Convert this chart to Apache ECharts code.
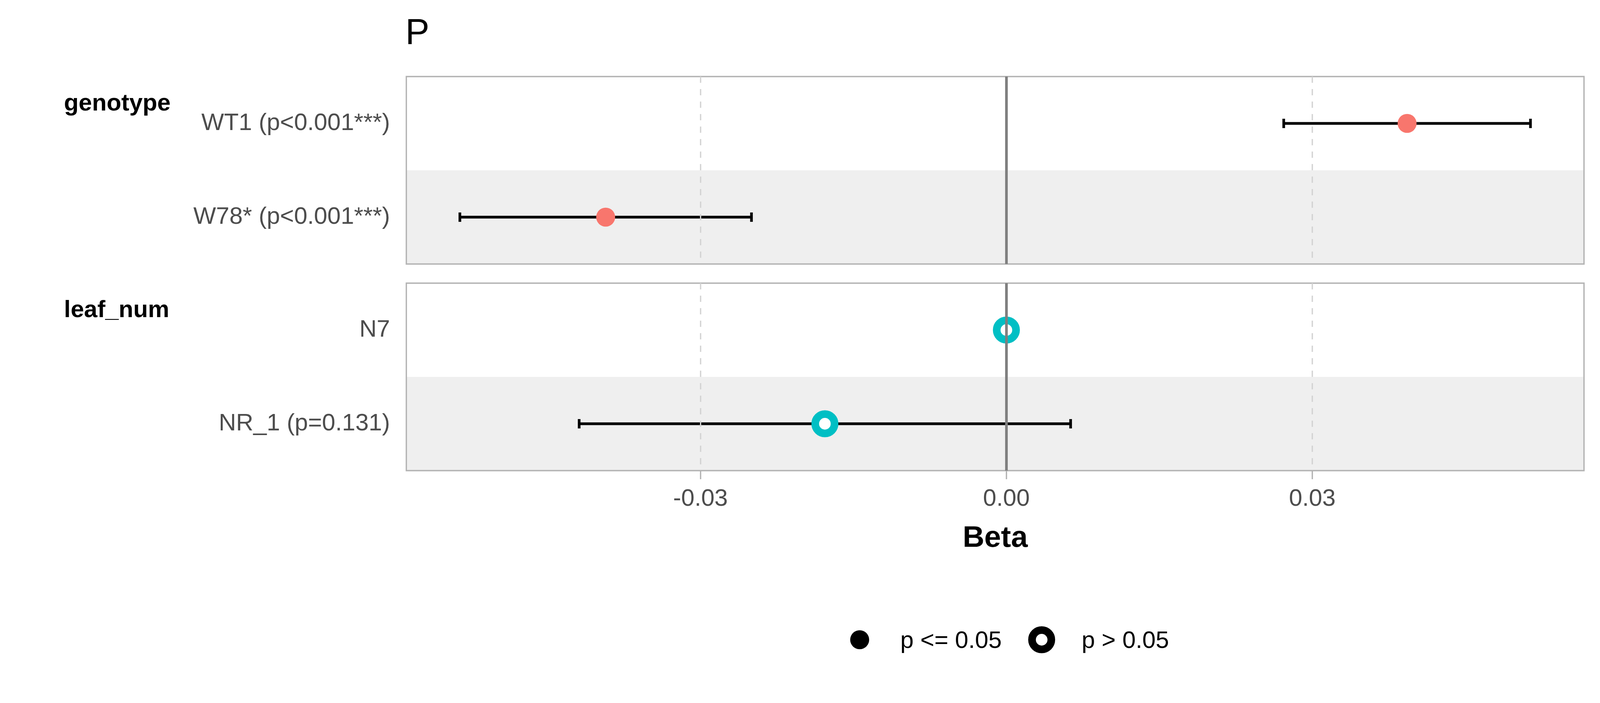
<!DOCTYPE html>
<html>
<head>
<meta charset="utf-8">
<script src="https://cdn.jsdelivr.net/npm/echarts@6/dist/echarts.min.js"></script>
<style>html,body{margin:0;padding:0;background:#fff;overflow:hidden;}#c{width:100vw;height:100vh;}</style>
</head>
<body>
<div id="c"></div>
<script>
// ---- data ----
const genotypeLabels = ['WT1 (p<0.001***)', 'W78* (p<0.001***)'];
const genotypeBeta = [0.0393, -0.0393];
const genotypeLow = [0.0272, -0.0536];
const genotypeHigh = [0.0514, -0.0250];
const genotypeSig = [true, true];

const leafLabels = ['N7', 'NR_1 (p=0.131)'];
const leafBeta = [0, -0.0178];
const leafLow = [null, -0.0419];
const leafHigh = [null, 0.0063];
const leafSig = [false, false];

const stripTitles = ['genotype', 'leaf_num'];
const xTicks = [-0.03, 0, 0.03];
const legendLabels = ['p <= 0.05', 'p > 0.05'];

// ---- layout (designed for 4800 x 1800, scaled to the actual viewport) ----
const el = document.getElementById('c');
const W = el.clientWidth || 4800, H = el.clientHeight || 1800;
const sx = W / 4800, sy = H / 1800;
const X = v => v * sx, Y = v => v * sy;
const F = v => Math.round(v * Math.min(sx, sy) * 10) / 10;

const FONT = '"Liberation Sans", Arial, Helvetica, sans-serif';
const allLow = genotypeLow.concat(leafLow).filter(v => v !== null);
const allHigh = genotypeHigh.concat(leafHigh).filter(v => v !== null);
const dMin = Math.min(...allLow), dMax = Math.max(...allHigh);
const pad = (dMax - dMin) * 0.05;
const xMin = dMin - pad, xMax = dMax + pad;

const colorSig = '#F8766D', colorNS = '#00BFC4';

function errData(low, high) {
  const out = [];
  low.forEach((v, i) => { if (v !== null && high[i] !== null) out.push([v, high[i], i]); });
  return out;
}
function ptData(beta, sig, want) {
  const out = [];
  beta.forEach((v, i) => { if (sig[i] === want) out.push([v, i]); });
  return out;
}
function renderErr(params, api) {
  const lo = api.coord([api.value(0), api.value(2)]);
  const hi = api.coord([api.value(1), api.value(2)]);
  const h = Y(12);
  const st = { stroke: '#000', lineWidth: F(8) };
  return {
    type: 'group',
    children: [
      { type: 'line', shape: { x1: lo[0], y1: lo[1], x2: hi[0], y2: hi[1] }, style: st },
      { type: 'line', shape: { x1: lo[0], y1: lo[1] - h, x2: lo[0], y2: lo[1] + h }, style: st },
      { type: 'line', shape: { x1: hi[0], y1: hi[1] - h, x2: hi[0], y2: hi[1] + h }, style: st }
    ]
  };
}

const gridLeft = X(1219), gridRight = X(48), gridH = Y(480);
const gridTops = [Y(196), Y(725)];

function yAxis(idx, labels) {
  return {
    type: 'category', gridIndex: idx, data: labels, inverse: true,
    axisLine: { show: false }, axisTick: { show: false },
    axisLabel: { color: '#4d4d4d', fontSize: F(72), fontFamily: FONT, margin: X(49) },
    splitLine: { show: false },
    splitArea: { show: true, areaStyle: { color: ['#ffffff', '#efefef'] } }
  };
}
function xAxis(idx, showLabels) {
  return {
    type: 'value', gridIndex: idx, min: xMin, max: xMax,
    axisLine: { show: false },
    splitLine: { show: false },
    axisTick: { show: showLabels, customValues: xTicks, length: Y(22), lineStyle: { color: '#b3b3b3', width: F(4) } },
    axisLabel: { show: showLabels, customValues: xTicks, color: '#4d4d4d', fontSize: F(72), fontFamily: FONT, margin: Y(43),
      formatter: v => v.toFixed(2) },
    name: showLabels ? 'Beta' : '', nameLocation: 'middle', nameGap: Y(135),
    nameTextStyle: { color: '#000', fontSize: F(90), fontWeight: 'bold', fontFamily: FONT }
  };
}
function refLines(idx) {
  return {
    type: 'scatter', xAxisIndex: idx, yAxisIndex: idx, data: [], z: 1, silent: true,
    markLine: {
      silent: true, symbol: ['none', 'none'], animation: false,
      label: { show: false },
      data: xTicks.filter(v => v !== 0).map(v => ({ xAxis: v, lineStyle: { color: '#d3d3d3', width: F(4), type: [Y(16), Y(16)] } }))
        .concat([{ xAxis: 0, lineStyle: { color: '#7f7f7f', width: F(8), type: 'solid' } }])
    }
  };
}
function seriesFor(idx, beta, low, high, sig) {
  return [
    refLines(idx),
    { type: 'custom', xAxisIndex: idx, yAxisIndex: idx, renderItem: renderErr, data: errData(low, high),
      encode: { x: [0, 1], y: 2 }, z: 3, silent: true },
    { type: 'scatter', xAxisIndex: idx, yAxisIndex: idx, data: ptData(beta, sig, true), symbol: 'circle', symbolSize: F(57),
      itemStyle: { color: colorSig, opacity: 1 }, z: 4, silent: true },
    { type: 'scatter', xAxisIndex: idx, yAxisIndex: idx, data: ptData(beta, sig, false), symbol: 'circle', symbolSize: F(58),
      itemStyle: { color: '#ffffff', borderColor: colorNS, borderWidth: F(23), opacity: 1 }, z: 4, silent: true }
  ];
}

const option = {
  animation: false,
  backgroundColor: '#ffffff',
  title: { text: 'P', left: X(1216), top: Y(42), padding: 0,
    textStyle: { color: '#000', fontSize: F(108), fontWeight: 'normal', fontFamily: FONT } },
  grid: gridTops.map(t => ({ left: gridLeft, right: gridRight, top: t, height: gridH, show: true,
    borderColor: '#b3b3b3', borderWidth: F(4), backgroundColor: 'transparent', z: 5 })),
  xAxis: [xAxis(0, false), xAxis(1, true)],
  yAxis: [yAxis(0, genotypeLabels), yAxis(1, leafLabels)],
  series: seriesFor(0, genotypeBeta, genotypeLow, genotypeHigh, genotypeSig)
    .concat(seriesFor(1, leafBeta, leafLow, leafHigh, leafSig)),
  graphic: [
    { type: 'text', left: X(192), top: gridTops[0] + Y(40), style: { text: stripTitles[0], fill: '#000', font: 'bold ' + F(72) + 'px ' + FONT } },
    { type: 'text', left: X(192), top: gridTops[1] + Y(40), style: { text: stripTitles[1], fill: '#000', font: 'bold ' + F(72) + 'px ' + FONT } },
    { type: 'circle', shape: { cx: X(2579), cy: Y(1638), r: F(28.5) }, style: { fill: '#000' } },
    { type: 'text', x: X(2701), y: Y(1642), style: { text: legendLabels[0], fill: '#000', font: F(72) + 'px ' + FONT, verticalAlign: 'middle', align: 'left' } },
    { type: 'circle', shape: { cx: X(3125), cy: Y(1638), r: F(29) }, style: { fill: '#fff', stroke: '#000', lineWidth: F(23) } },
    { type: 'text', x: X(3245), y: Y(1642), style: { text: legendLabels[1], fill: '#000', font: F(72) + 'px ' + FONT, verticalAlign: 'middle', align: 'left' } }
  ]
};

const chart = echarts.init(el, null, { renderer: 'canvas' });
chart.setOption(option);
</script>
</body>
</html>
